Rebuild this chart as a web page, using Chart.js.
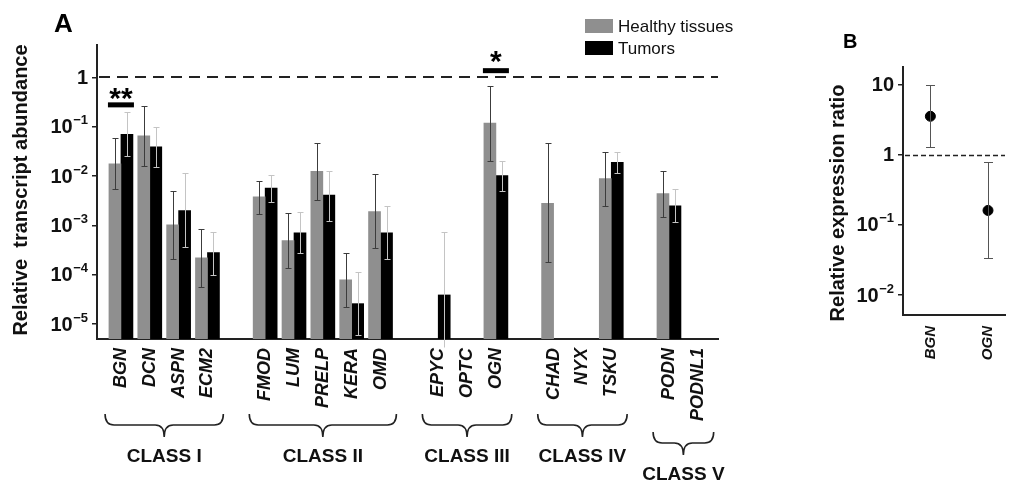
<!DOCTYPE html>
<html>
<head>
<meta charset="utf-8">
<script src="https://cdn.jsdelivr.net/npm/chart.js@4.4.1/dist/chart.umd.min.js"></script>
<style>
  html, body { margin: 0; padding: 0; background: #fff; }
  body { width: 1011px; height: 483px; position: relative; overflow: hidden; }
  canvas { position: absolute; top: 0; }
  #chartA { left: 0; }
  #chartB { left: 780px; }
</style>
</head>
<body>
<canvas id="chartA" width="775" height="483"></canvas>
<canvas id="chartB" width="231" height="483"></canvas>
<script>
// ---- panel A data ----
const genes = ['BGN', 'DCN', 'ASPN', 'ECM2', '', 'FMOD', 'LUM', 'PRELP', 'KERA', 'OMD', '',
  'EPYC', 'OPTC', 'OGN', '', 'CHAD', 'NYX', 'TSKU', '', 'PODN', 'PODNL1'];
const healthy     = [0.0176, 0.065, 0.00103, 0.00022, null, 0.0038, 0.00049, 0.0125, 7.9e-5, 0.0019, null, null, null, 0.118, null, 0.0028, null, 0.0089, null, 0.0044, null];
const healthyLow  = [0.0054, 0.016, 0.000206, 5.6e-5, null, 0.0017, 0.000139, 0.0033, 2.2e-5, 0.00035, null, null, null, 0.02, null, 0.00018, null, 0.0025, null, 0.0015, null];
const healthyHigh = [0.059, 0.26, 0.0049, 0.00083, null, 0.0081, 0.0018, 0.046, 0.00028, 0.0108, null, null, null, 0.66, null, 0.047, null, 0.031, null, 0.0125, null];
const tumor       = [0.07, 0.039, 0.002, 0.00028, null, 0.0057, 0.00071, 0.0041, 2.6e-5, 0.00071, null, 3.9e-5, null, 0.0102, null, null, null, 0.019, null, 0.0025, null];
const tumorLow    = [0.025, 0.0155, 0.00036, 9.8e-5, null, 0.003, 0.00028, 0.00122, 5.9e-6, 0.00021, null, 3.5e-6, null, 0.005, null, null, null, 0.0115, null, 0.00115, null];
const tumorHigh   = [0.197, 0.1, 0.0113, 0.00075, null, 0.0107, 0.0019, 0.0129, 0.000112, 0.0025, null, 0.00075, null, 0.02, null, null, null, 0.031, null, 0.0054, null];
const yTicksA  = [1, 1e-1, 1e-2, 1e-3, 1e-4, 1e-5];
const yLabelsA = ['1', '10^−1', '10^−2', '10^−3', '10^−4', '10^−5'];
const legendLabels = ['Healthy tissues', 'Tumors'];
const classNames = ['CLASS I', 'CLASS II', 'CLASS III', 'CLASS IV', 'CLASS V'];
const classFirst = ['BGN', 'FMOD', 'EPYC', 'CHAD', 'PODN'];
const classLast  = ['ECM2', 'OMD', 'OGN', 'TSKU', 'PODNL1'];
const sigGenes = ['BGN', 'OGN'];
const sigText  = ['**', '*'];
const sigLevel = [0.276, 1.36];
const refLine = 1;

// ---- panel B data ----
const ratioGenes = ['BGN', 'OGN'];
const ratio      = [3.5, 0.16];
const ratioLow   = [1.27, 0.0335];
const ratioHigh  = [9.6, 0.77];
const yTicksB  = [10, 1, 0.1, 0.01];
const yLabelsB = ['10', '1', '10^−1', '10^−2'];

const FONT = '"Liberation Sans", Arial, sans-serif';
const GRAY = '#8f8f8f';

// error bars drawn from each dataset's errLow / errHigh
const errorBars = {
  id: 'errorBars',
  afterDatasetsDraw(chart) {
    const ctx = chart.ctx;
    const yScale = chart.scales.y;
    chart.data.datasets.forEach((ds, di) => {
      if (!ds.errLow) return;
      const meta = chart.getDatasetMeta(di);
      ctx.save();
      ctx.strokeStyle = ds.errColor;
      ctx.lineWidth = 1;
      meta.data.forEach((el, i) => {
        if (ds.errLow[i] == null || ds.errHigh[i] == null) return;
        const x = Math.round(el.x) + 0.5;
        const top = Math.round(yScale.getPixelForValue(ds.errHigh[i])) + 0.5;
        const bot = Math.round(yScale.getPixelForValue(ds.errLow[i])) + 0.5;
        const cap = ds.capWidth / 2;
        ctx.beginPath();
        ctx.moveTo(x, top); ctx.lineTo(x, bot);
        ctx.moveTo(x - cap, top); ctx.lineTo(x + cap, top);
        if (bot < chart.chartArea.bottom) { ctx.moveTo(x - cap, bot); ctx.lineTo(x + cap, bot); }
        ctx.stroke();
      });
      ctx.restore();
    });
  }
};

// dashed line at y = 1
const refLinePlugin = {
  id: 'refLine',
  beforeDatasetsDraw(chart, args, opts) {
    const ctx = chart.ctx;
    const ca = chart.chartArea;
    const y = Math.round(chart.scales.y.getPixelForValue(refLine)) + (opts.width % 2 ? 0.5 : 0);
    ctx.save();
    ctx.strokeStyle = '#222';
    ctx.lineWidth = opts.width;
    ctx.setLineDash(opts.dash);
    ctx.beginPath();
    ctx.moveTo(ca.left + 2, y);
    ctx.lineTo(ca.right, y);
    ctx.stroke();
    ctx.restore();
  }
};

// y tick labels with real-looking superscripts, plus rotated axis title
const logLabels = {
  id: 'logLabels',
  afterDraw(chart, args, opts) {
    const ctx = chart.ctx, y = chart.scales.y;
    ctx.save();
    ctx.fillStyle = '#111';
    ctx.textAlign = 'right';
    ctx.textBaseline = 'middle';
    opts.values.forEach((v, i) => {
      const py = y.getPixelForValue(v);
      const [base, exp] = opts.labels[i].split('^');
      let right = opts.right;
      if (exp) {
        ctx.font = 'bold ' + opts.supSize + 'px ' + FONT;
        ctx.fillText(exp, right, py - opts.size * 0.3);
        right -= ctx.measureText(exp).width + 0.5;
      }
      ctx.font = 'bold ' + opts.size + 'px ' + FONT;
      ctx.fillText(base, right, py + 1);
    });
    // axis title
    ctx.translate(opts.titleX, opts.titleY);
    ctx.rotate(-Math.PI / 2);
    ctx.textAlign = 'center';
    ctx.font = 'bold ' + opts.titleSize + 'px ' + FONT;
    ctx.fillText(opts.title, 0, 0);
    ctx.restore();
  }
};

// legend, significance marks, braces and class names for panel A
const decorA = {
  id: 'decorA',
  afterDraw(chart) {
    const ctx = chart.ctx;
    const x = chart.scales.x, y = chart.scales.y;
    ctx.save();

    // panel letter
    ctx.fillStyle = '#000';
    ctx.font = 'bold 26px ' + FONT;
    ctx.textBaseline = 'alphabetic';
    ctx.fillText('A', 54, 32);

    // legend
    const colors = [GRAY, '#000'];
    ctx.font = '17px ' + FONT;
    legendLabels.forEach((lab, i) => {
      const top = 19 + i * 22;
      ctx.fillStyle = colors[i];
      ctx.fillRect(585, top, 28, 14);
      ctx.fillStyle = '#111';
      ctx.fillText(lab, 618, top + 13);
    });

    // significance
    sigGenes.forEach((g, i) => {
      const cx = x.getPixelForValue(genes.indexOf(g));
      const cy = y.getPixelForValue(sigLevel[i]);
      ctx.fillStyle = '#000';
      ctx.fillRect(cx - 13, cy - 2.5, 26, 5);
      ctx.font = 'bold 30px ' + FONT;
      ctx.textAlign = 'center';
      ctx.fillText(sigText[i], cx, cy + 3 + i * -3);
    });

    // braces: sit below the gene names, lower only where a name is very long
    const axisY = chart.chartArea.bottom;
    ctx.font = 'bold italic 18px ' + FONT;
    classNames.forEach((name, i) => {
      const a = genes.indexOf(classFirst[i]), b = genes.indexOf(classLast[i]);
      let longest = 0;
      for (let k = a; k <= b; k++) longest = Math.max(longest, ctx.measureText(genes[k]).width);
      const top = longest > 66 ? axisY + longest + 20 : axisY + 75;
      const x1 = x.getPixelForValue(a - 0.55), x2 = x.getPixelForValue(b + 0.55);
      const xm = (x1 + x2) / 2, mid = top + 11, tip = top + 23, r = 9;
      ctx.save();
      ctx.strokeStyle = '#222';
      ctx.lineWidth = 1.6;
      ctx.beginPath();
      ctx.moveTo(x1, top);
      ctx.quadraticCurveTo(x1, mid, x1 + r, mid);
      ctx.lineTo(xm - r, mid);
      ctx.quadraticCurveTo(xm, mid, xm, tip);
      ctx.quadraticCurveTo(xm, mid, xm + r, mid);
      ctx.lineTo(x2 - r, mid);
      ctx.quadraticCurveTo(x2, mid, x2, top);
      ctx.stroke();
      ctx.fillStyle = '#111';
      ctx.font = 'bold 19px ' + FONT;
      ctx.textAlign = 'center';
      ctx.fillText(name, xm, tip + 25);
      ctx.restore();
    });
    ctx.restore();
  }
};

new Chart(document.getElementById('chartA'), {
  type: 'bar',
  data: {
    datasets: [
      {
        label: legendLabels[0],
        data: healthy.map((v, i) => ({ x: i, y: v })),
        backgroundColor: GRAY,
        errLow: healthyLow, errHigh: healthyHigh, errColor: '#3c3c3c', capWidth: 6
      },
      {
        label: legendLabels[1],
        data: tumor.map((v, i) => ({ x: i, y: v })),
        backgroundColor: '#000',
        errLow: tumorLow, errHigh: tumorHigh, errColor: '#c4c4c4', capWidth: 6
      }
    ]
  },
  options: {
    responsive: false,
    animation: false,
    barThickness: 12,
    layout: { padding: { left: 0, top: 45, right: 57, bottom: 0 } },
    plugins: {
      legend: { display: false },
      tooltip: { enabled: false },
      refLine: { width: 2, dash: [11, 7] },
      logLabels: {
        values: yTicksA, labels: yLabelsA, right: 88, size: 20, supSize: 13,
        title: 'Relative  transcript abundance', titleX: 21, titleY: 190, titleSize: 20
      }
    },
    scales: {
      x: {
        type: 'linear',
        offset: false,
        min: -0.83,
        max: 20.7,
        afterFit(s) { s.height = 144; },
        afterBuildTicks(s) { s.ticks = genes.map((g, i) => ({ value: i })); },
        grid: { display: false },
        border: { display: true, color: '#222', width: 2 },
        ticks: {
          autoSkip: false,
          minRotation: 90,
          maxRotation: 90,
          padding: 1,
          color: '#111',
          font: { family: FONT, size: 18, weight: 'bold', style: 'italic' },
          callback: (v) => genes[v] || ''
        }
      },
      y: {
        type: 'logarithmic',
        min: 5e-6,
        max: 4.5,
        afterFit(s) { s.width = 97; },
        afterBuildTicks(s) { s.ticks = yTicksA.map(v => ({ value: v })); },
        grid: { drawOnChartArea: false, drawTicks: true, tickLength: 5, color: '#222', lineWidth: 1.5 },
        border: { display: true, color: '#222', width: 2 },
        ticks: { callback: () => '' }
      }
    }
  },
  plugins: [refLinePlugin, errorBars, logLabels, decorA]
});

// ---- panel B ----
const decorB = {
  id: 'decorB',
  afterDraw(chart) {
    const ctx = chart.ctx;
    ctx.save();
    ctx.fillStyle = '#000';
    ctx.font = 'bold 20px ' + FONT;
    ctx.fillText('B', 63, 48);
    ctx.restore();
  }
};

new Chart(document.getElementById('chartB'), {
  type: 'scatter',
  data: {
    datasets: [{
      data: ratio.map((v, i) => ({ x: i, y: v })),
      backgroundColor: '#000',
      borderColor: '#000',
      pointRadius: 5,
      errLow: ratioLow, errHigh: ratioHigh, errColor: '#555', capWidth: 9
    }]
  },
  options: {
    responsive: false,
    animation: false,
    layout: { padding: { left: 0, top: 67, right: 0, bottom: 0 } },
    plugins: {
      legend: { display: false },
      tooltip: { enabled: false },
      refLine: { width: 1.5, dash: [5, 3] },
      logLabels: {
        values: yTicksB, labels: yLabelsB, right: 114, size: 20, supSize: 13,
        title: 'Relative expression ratio', titleX: 58, titleY: 203, titleSize: 20
      }
    },
    scales: {
      x: {
        type: 'linear',
        offset: false,
        min: -0.475,
        max: 1.295,
        afterFit(s) { s.height = 168; },
        afterBuildTicks(s) { s.ticks = ratioGenes.map((g, i) => ({ value: i })); },
        grid: { display: false },
        border: { display: true, color: '#222', width: 2 },
        ticks: {
          autoSkip: false,
          minRotation: 90,
          maxRotation: 90,
          padding: 3,
          color: '#111',
          font: { family: FONT, size: 15, weight: 'bold', style: 'italic' },
          callback: (v) => ratioGenes[v] || ''
        }
      },
      y: {
        type: 'logarithmic',
        min: 0.0052,
        max: 17.6,
        afterFit(s) { s.width = 123; },
        afterBuildTicks(s) { s.ticks = yTicksB.map(v => ({ value: v })); },
        grid: { drawOnChartArea: false, drawTicks: true, tickLength: 5, color: '#222', lineWidth: 1.5 },
        border: { display: true, color: '#222', width: 2 },
        ticks: { callback: () => '' }
      }
    }
  },
  plugins: [refLinePlugin, errorBars, logLabels, decorB]
});
</script>
</body>
</html>
